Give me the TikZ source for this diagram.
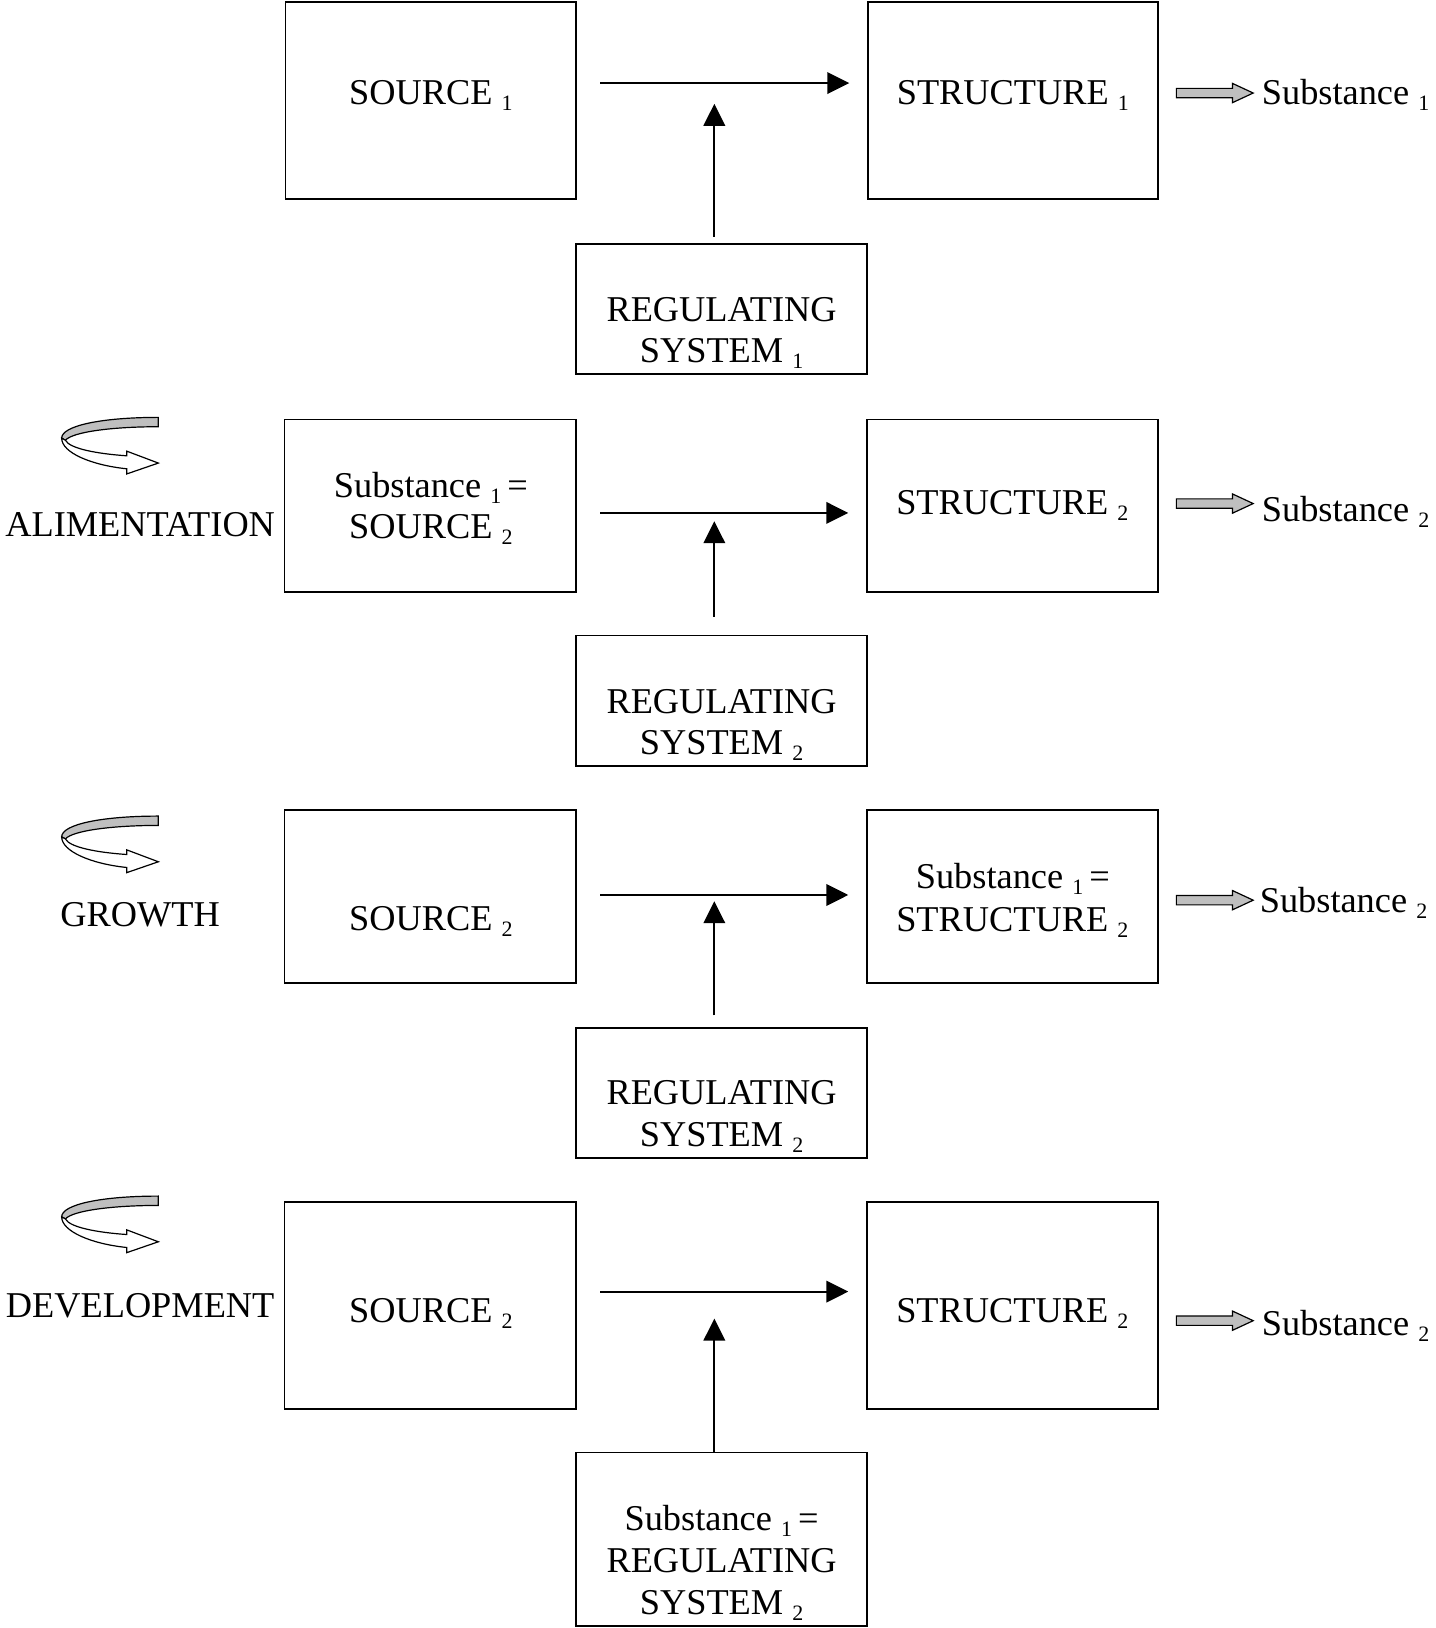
\documentclass[tikz,border=0pt]{standalone}
\usepackage{fontspec}
\setmainfont{Liberation Serif}
\usetikzlibrary{arrows.meta}
\newcommand\sbs[1]{{\fontsize{11}{12}\selectfont\raisebox{-3pt}{#1}}}
\tikzset{
  box/.style 2 args={draw, line width=0.9pt, inner sep=0pt, outer sep=0pt,
    minimum width=#1*0.52pt, minimum height=#2*0.52pt},
  lbl/.style={inner sep=0pt, anchor=base, font=\fontsize{18.2}{21}\selectfont},
  lblw/.style={lbl, anchor=base west},
  arr/.style={line width=0.9pt, -{Triangle[length=11pt,width=10.8pt]}},
  pics/garrow/.style={code={
    \draw[fill=gray!50, line width=0.6pt, line join=miter]
      (0,-4.5) -- (54,-4.5) -- (54,-9.3) -- (74,0) -- (54,9.3) -- (54,4.5) -- (0,4.5) -- cycle;}},
  pics/curl/.style={code={
    \draw[fill=gray!50, line width=0.6pt]
      (94.5,0) -- (94.5,9) .. controls (50,9) and (12,14) .. (5,22)
      -- (1.4,20) .. controls (1.4,8) and (40,0) .. (94.5,0) -- cycle;
    \draw[fill=white, line width=0.6pt, line join=miter]
      (1.4,20) .. controls (1.4,34) and (30,46) .. (64,49.5)
      -- (64,54.5) -- (94.5,44) -- (64,32.5) -- (64,37)
      .. controls (35,35) and (9,30) .. (5,22) -- cycle;}}
}
\begin{document}
\begin{tikzpicture}[x=0.52pt, y=-0.52pt]
\useasboundingbox (0,0) rectangle (1383,1568);

% ---------- Row 1
\node[box={280}{190}] (S1) at (415,97) {};
\node[box={279}{190}] (T1) at (975.5,97) {};
\node[box={280}{125}] (R1) at (695,297.5) {};
\node[lbl] (S1t) at (415,101) {SOURCE~\sbs{1}};
\node[lbl] (T1t) at (975.5,101) {STRUCTURE~\sbs{1}};
\node[lbl] (R1a) at (695,310) {REGULATING};
\node[lbl] (R1b) at (695,349) {SYSTEM~\sbs{1}};
\node[lblw] (P1) at (1215,101) {Substance~\sbs{1}};
\draw[arr, shorten <=11.96pt, shorten >=9.36pt] ([yshift=8.84pt]S1.east) -- ([yshift=8.84pt]T1.west);
\draw[arr, shorten <=3.64pt] ([xshift=-3.64pt]R1.north) -- ++(0,-135);
\pic at (1133,89.6) {garrow};

% ---------- Row 2
\pic at (58,402) {curl};
\node[lbl] (L2) at (135,517) {ALIMENTATION};
\node[box={281}{166}] (S2) at (414.5,487) {};
\node[box={280}{166}] (T2) at (975,487) {};
\node[box={280}{126}] (R2) at (695,675) {};
\node[lbl] (S2a) at (415,479) {Substance~\sbs{1}\,=};
\node[lbl] (S2b) at (415,519) {SOURCE~\sbs{2}};
\node[lbl] (T2t) at (975,496) {STRUCTURE~\sbs{2}};
\node[lbl] (R2a) at (695,687) {REGULATING};
\node[lbl] (R2b) at (695,727) {SYSTEM~\sbs{2}};
\node[lblw] (P2) at (1215,502) {Substance~\sbs{2}};
\draw[arr, shorten <=11.96pt, shorten >=9.36pt] ([yshift=-3.64pt]S2.east) -- ([yshift=-3.64pt]T2.west);
\draw[arr, shorten <=9.36pt] ([xshift=-3.64pt]R2.north) -- ++(0,-110);
\pic at (1133,485) {garrow};

% ---------- Row 3
\pic at (58,786) {curl};
\node[lbl] (L3) at (135,892) {GROWTH};
\node[box={281}{167}] (S3) at (414.5,863.5) {};
\node[box={280}{167}] (T3) at (975,863.5) {};
\node[box={280}{125}] (R3) at (695,1052.5) {};
\node[lbl] (S3t) at (415,896) {SOURCE~\sbs{2}};
\node[lbl] (T3a) at (975.5,856) {Substance~\sbs{1}\,=};
\node[lbl] (T3b) at (975,897) {STRUCTURE~\sbs{2}};
\node[lbl] (R3a) at (695,1064) {REGULATING};
\node[lbl] (R3b) at (695,1104) {SYSTEM~\sbs{2}};
\node[lblw] (P3) at (1213,879) {Substance~\sbs{2}};
\draw[arr, shorten <=11.96pt, shorten >=9.36pt] ([yshift=0.78pt]S3.east) -- ([yshift=0.78pt]T3.west);
\draw[arr, shorten <=6.24pt] ([xshift=-3.64pt]R3.north) -- ++(0,-122);
\pic at (1133,867) {garrow};

% ---------- Row 4
\pic at (58,1152) {curl};
\node[lbl] (L4) at (135,1269) {DEVELOPMENT};
\node[box={281}{199}] (S4) at (414.5,1257.5) {};
\node[box={280}{199}] (T4) at (975,1257.5) {};
\node[box={280}{167}] (R4) at (695,1482.5) {};
\node[lbl] (S4t) at (415,1274) {SOURCE~\sbs{2}};
\node[lbl] (T4t) at (975,1274) {STRUCTURE~\sbs{2}};
\node[lbl] (R4a) at (695,1474) {Substance~\sbs{1}\,=};
\node[lbl] (R4b) at (695,1515) {REGULATING};
\node[lbl] (R4c) at (695,1555) {SYSTEM~\sbs{2}};
\node[lblw] (P4) at (1215,1286) {Substance~\sbs{2}};
\draw[arr, shorten <=11.96pt, shorten >=9.36pt] ([yshift=7.02pt]S4.east) -- ([yshift=7.02pt]T4.west);
\draw[arr, shorten <=0.52pt] ([xshift=-3.64pt]R4.north) -- ++(0,-129);
\pic at (1133,1272) {garrow};
\end{tikzpicture}
\end{document}
